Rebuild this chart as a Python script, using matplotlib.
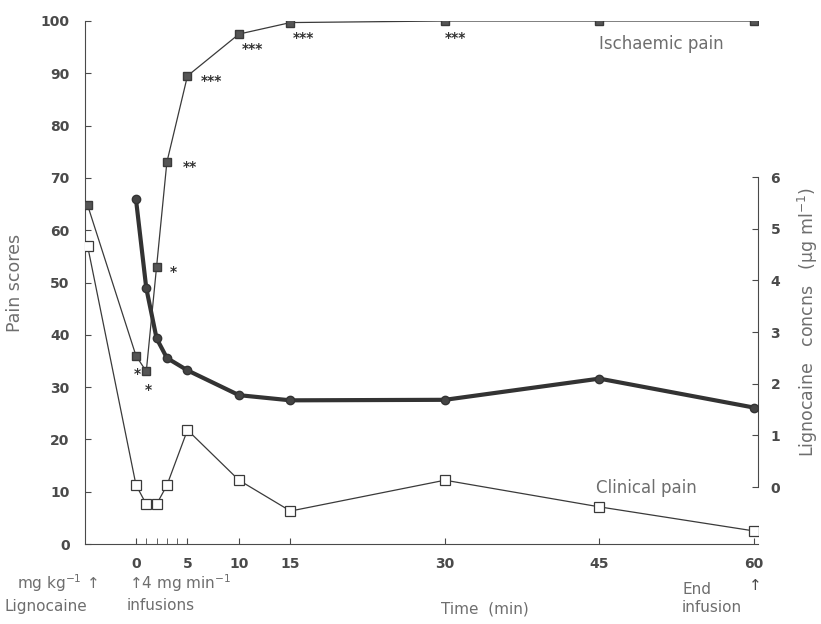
import numpy as np
import matplotlib.pyplot as plt

# time points (min); the bolus point sits just right of the left spine
t_isch = [-4.7, 0, 1, 2, 3, 5, 10, 15, 30, 45, 60]
ischaemic = [64.8, 36, 33, 53, 73, 89.5, 97.5, 99.7, 100, 100, 100]

t_clin = [-4.7, 0, 1, 2, 3, 5, 10, 15, 30, 45, 60]
clinical = [57, 11.3, 7.6, 7.6, 11.2, 21.8, 12.2, 6.3, 12.2, 7.1, 2.5]

t_conc = [0, 1, 2, 3, 5, 10, 15, 30, 45, 60]
lignocaine = [5.57, 3.85, 2.88, 2.50, 2.26, 1.78, 1.68, 1.69, 2.10, 1.54]

# significance marks next to the ischaemic pain points
stars_x = [0.1, 1.2, 3.6, 5.2, 7.3, 11.3, 16.3, 31.0]
stars_y = [32.5, 29.5, 52.0, 72.0, 88.6, 94.6, 96.8, 96.8]
stars_txt = ['*', '*', '*', '**', '***', '***', '***', '***']

line_c = '#3a3a3a'
text_c = '#6e6e6e'
tick_c = '#4a4a4a'
W, H = 821, 624

fig = plt.figure(figsize=(8.21, 6.24), dpi=100)
ax = fig.add_axes([85 / W, 1 - 544 / H, (758 - 85) / W, (544 - 21) / H])

ax.plot(t_isch, ischaemic, color=line_c, lw=0.9, marker='s', ms=6,
        mfc='#555555', mec=line_c, zorder=3)
ax.plot(t_clin, clinical, color=line_c, lw=0.9, marker='s', ms=7,
        mfc='white', mec=line_c, mew=0.9, zorder=3)

for x, y, s in zip(stars_x, stars_y, stars_txt):
    ax.text(x, y, s, fontsize=10, fontweight='bold', color='#333333',
            ha='center', va='center')

ax.text(45, 95.6, 'Ischaemic pain', fontsize=12, color=text_c, va='center')
ax.text(44.7, 10.8, 'Clinical pain', fontsize=12, color=text_c, va='center')

ax.set_xlim(-4.95, 60.4)
ax.set_ylim(0, 100)
ax.set_yticks(np.arange(0, 101, 10))
ax.set_xticks([0, 5, 10, 15, 30, 45, 60])
ax.set_xticks([1, 2, 3, 4], minor=True)
ax.tick_params(direction='in', length=4, width=0.8, color=tick_c,
               labelcolor=tick_c, labelsize=10)
ax.tick_params(axis='x', which='minor', direction='in', length=4, color=tick_c)
ax.tick_params(axis='x', pad=9)
ax.tick_params(axis='y', pad=11)
for lab in ax.get_xticklabels() + ax.get_yticklabels():
    lab.set_fontweight('bold')
ax.spines['top'].set_visible(False)
ax.spines['right'].set_visible(False)
ax.spines['left'].set_color(tick_c)
ax.spines['bottom'].set_color(tick_c)
ax.set_ylabel('Pain scores', fontsize=12.5, color=text_c, labelpad=12)

ax2 = ax.twinx()
ax2.plot(t_conc, lignocaine, color='#333333', lw=3, marker='o', ms=6,
         mfc='#444444', mec='#333333', zorder=4)
ax2.set_xlim(-4.95, 60.4)
ax2.set_ylim(-1.10, 9.02)
ax2.set_yticks(range(0, 7))
ax2.spines['right'].set_bounds(0, 6)
ax2.spines['right'].set_color(tick_c)
for side in ['top', 'left', 'bottom']:
    ax2.spines[side].set_visible(False)
ax2.tick_params(direction='in', length=4, width=0.8, color=tick_c,
                labelcolor=tick_c, labelsize=10, pad=9)
for lab in ax2.get_yticklabels():
    lab.set_fontweight('bold')

fig.text(808 / W, 1 - 322 / H, 'Lignocaine   concns   (µg ml$^{-1}$)',
         rotation=90, fontsize=12.5, color=text_c, ha='center', va='center')

# annotations under the time axis
fig.text(98 / W, 1 - 583 / H, 'mg kg$^{-1}$ \u2191', fontsize=11,
         color=text_c, ha='right', va='center')
fig.text(4 / W, 1 - 606 / H, 'Lignocaine', fontsize=11, color=text_c,
         ha='left', va='center')
fig.text(129 / W, 1 - 583 / H, '\u21914 mg min$^{-1}$', fontsize=11,
         color=text_c, ha='left', va='center')
fig.text(127 / W, 1 - 606 / H, 'infusions', fontsize=11, color=text_c,
         ha='left', va='center')
fig.text(485 / W, 1 - 609 / H, 'Time  (min)', fontsize=11, color=text_c,
         ha='center', va='center')
fig.text(682 / W, 1 - 589 / H, 'End', fontsize=11, color=text_c,
         ha='left', va='center')
fig.text(682 / W, 1 - 607 / H, 'infusion', fontsize=11, color=text_c,
         ha='left', va='center')
fig.text(755 / W, 1 - 585 / H, '\u2191', fontsize=11, color=tick_c,
         ha='center', va='center')

fig.savefig('out.png', dpi=100)
